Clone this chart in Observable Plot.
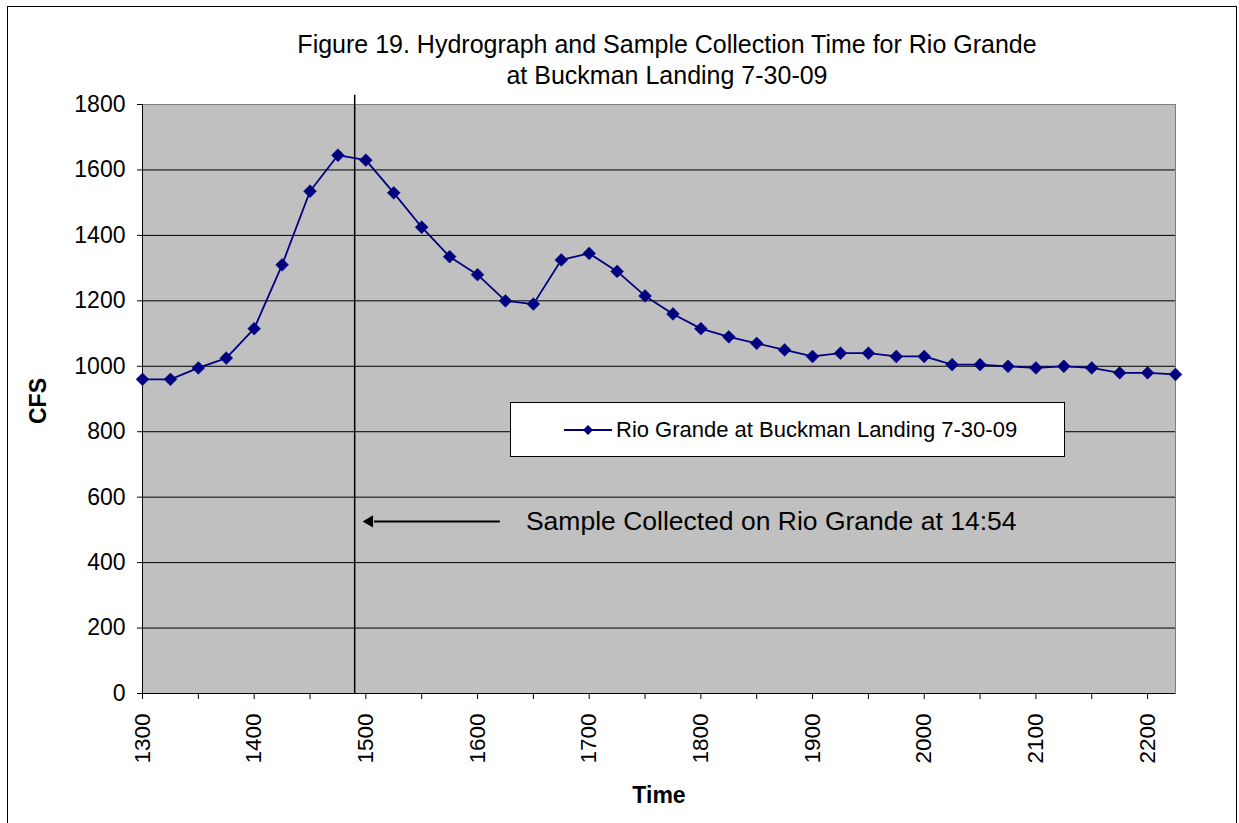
<!DOCTYPE html>
<html>
<head>
<meta charset="utf-8">
<script src="https://cdn.jsdelivr.net/npm/d3@7"></script>
<script src="https://cdn.jsdelivr.net/npm/@observablehq/plot@0.6"></script>
<style>
  html, body { margin: 0; padding: 0; background: #fff; }
  body { width: 1239px; height: 823px; overflow: hidden; position: relative; font-family: "Liberation Sans", Arial, sans-serif; }
  #border { position: absolute; left: 7px; top: 6px; width: 1230px; height: 840px; border: 1.5px solid #000; box-sizing: border-box; }
  #title { position: absolute; left: 0; width: 1334px; top: 29px; text-align: center; font-size: 25px; line-height: 31px; color: #000; }
  #ylab { position: absolute; left: 38px; top: 401px; transform: translate(-50%, -50%) rotate(-90deg); font-size: 23px; font-weight: bold; }
  #xlab { position: absolute; left: 659px; top: 795px; transform: translate(-50%, -50%); font-size: 23px; font-weight: bold; }
  #legend { position: absolute; left: 510px; top: 402px; width: 555px; height: 55px; box-sizing: border-box; background: #fff; border: 1px solid #000; display: flex; align-items: center; font-size: 22px; }
  #chart { position: absolute; left: 0; top: 0; }
</style>
</head>
<body>
<div id="chart"></div>
<div id="border"></div>
<div id="title">Figure 19. Hydrograph and Sample Collection Time for Rio Grande<br>at Buckman Landing 7-30-09</div>
<div id="ylab">CFS</div>
<div id="xlab">Time</div>
<div id="legend"><svg width="50" height="20" style="margin-left:52px"><line x1="1" y1="10" x2="49" y2="10" stroke="#000080" stroke-width="2"/><path d="M25,5 L30,10 L25,15 L20,10 Z" fill="#000080"/></svg><span style="margin-left:3px">Rio Grande at Buckman Landing 7-30-09</span></div>
<script>
// Time of reading (HHMM) and flow (CFS)
const times = [1300,1315,1330,1345,1400,1415,1430,1445,1500,1515,1530,1545,1600,1615,1630,1645,1700,1715,1730,1745,1800,1815,1830,1845,1900,1915,1930,1945,2000,2015,2030,2045,2100,2115,2130,2145,2200,2215];
const cfs   = [960,960,995,1025,1115,1310,1535,1645,1630,1530,1425,1335,1280,1200,1190,1325,1345,1290,1215,1160,1115,1090,1070,1050,1030,1040,1040,1030,1030,1005,1005,1000,995,1000,995,980,980,975];
const seriesName = "Rio Grande at Buckman Landing 7-30-09";
const sampleTime = 1454;
const sampleLabel = "Sample Collected on Rio Grande at 14:54";
const yTicks = [0,200,400,600,800,1000,1200,1400,1600,1800];
const xTickLabels = [1300,1400,1500,1600,1700,1800,1900,2000,2100,2200];
// annotation anchor points (time HHMM, CFS)
const arrowFrom = {t: 1612, v: 526};
const arrowTo = {t: 1502, v: 526};
const labelAt = {t: 1626, v: 526};

const toHours = t => Math.floor(t / 100) + (t % 100) / 60;
const data = times.map((t, i) => ({h: toHours(t), v: cfs[i]}));
const halfHours = d3.range(13, 22.5, 0.5);
const hourSet = new Set(xTickLabels.map(toHours));

const plot = Plot.plot({
  width: 1239,
  height: 823,
  marginLeft: 142,
  marginRight: 64,
  marginTop: 104,
  marginBottom: 130,
  style: {fontFamily: "'Liberation Sans', Arial, sans-serif", background: "transparent", overflow: "visible"},
  x: {domain: [toHours(times[0]), toHours(times[times.length - 1])], label: null},
  y: {domain: [0, 1800], label: null},
  marks: [
    Plot.frame({fill: "#c0c0c0", stroke: "#808080"}),
    Plot.ruleY(yTicks.filter(d => d > 0 && d < 1800), {stroke: "#000", strokeWidth: 1}),
    Plot.axisY({ticks: yTicks, tickSize: 5, tickPadding: 12, fontSize: 23, label: null, stroke: "#000", tickFormat: d => String(d)}),
    Plot.axisX({ticks: halfHours, tickSize: 6, tickPadding: 14, tickRotate: -90, fontSize: 22.5, label: null,
      tickFormat: d => hourSet.has(d) ? String(Math.round(d * 100)) : ""}),
    Plot.ruleX([0], {x: () => toHours(times[0]), stroke: "#000"}),
    Plot.ruleY([0], {stroke: "#000"}),
    Plot.ruleX([sampleTime], {x: d => toHours(d), y1: 0, y2: 1828, stroke: "#000", strokeWidth: 1.5, clip: false}),
    Plot.line(data, {x: "h", y: "v", stroke: "#000080", strokeWidth: 1.8}),
    Plot.dot(data, {x: "h", y: "v", symbol: "diamond2", r: 5.8, fill: "#000080", stroke: "#000080", strokeWidth: 0.5}),
    Plot.link([0], {x1: () => toHours(arrowFrom.t), x2: () => toHours(arrowTo.t) + 0.04, y1: arrowFrom.v, y2: arrowTo.v, stroke: "#000", strokeWidth: 2}),
    Plot.dot([0], {x: () => toHours(arrowTo.t), y: arrowTo.v, symbol: "triangle", rotate: -90, r: 4.5, fill: "#000"}),
    Plot.text([sampleLabel], {x: () => toHours(labelAt.t), y: labelAt.v, text: d => d, textAnchor: "start", fontSize: 26.5, fill: "#000"})
  ]
});
document.getElementById("chart").appendChild(plot);
</script>
</body>
</html>
